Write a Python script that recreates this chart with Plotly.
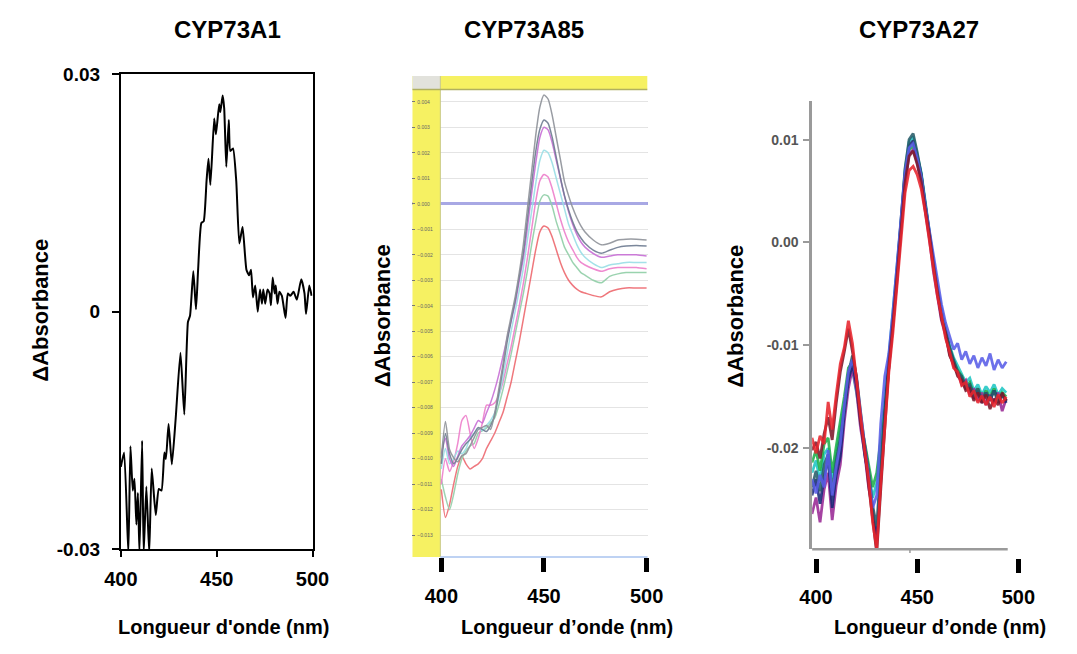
import plotly.graph_objects as go

# ---------------- data ----------------
# Panel 1 : CYP73A1
A1_WL = [400.0, 401.7, 403.9, 405.0, 406.2, 407.1, 408.1, 408.9, 409.7, 411.1,
         411.9, 413.3, 414.8, 416.1, 418.2, 419.8, 421.2, 422.7, 423.5, 424.9,
         426.6, 428.6, 431.1, 433.1, 435.0, 436.1, 437.8, 439.2, 440.3, 442.0,
         443.2, 444.7, 445.7, 446.7, 448.7, 449.6, 451.3, 451.9, 453.1, 453.9,
         455.0, 456.3, 457.1, 458.5, 460.2, 461.8, 463.5, 465.5, 466.9, 467.9,
         468.9, 470.1, 471.4, 472.6, 473.6, 474.3, 475.3, 476.5, 477.6, 478.3,
         479.2, 480.2, 480.8, 481.7, 482.7, 484.0, 485.9, 487.1, 488.4, 490.1,
         491.8, 494.1, 495.8, 496.6, 498.3, 499.5]
A1_DA = [-0.0196, -0.0178, -0.0305, -0.0170, -0.0226, -0.0211, -0.0269, -0.0229, -0.0305, -0.0163,
         -0.0305, -0.0221, -0.0305, -0.0198, -0.0257, -0.0224, -0.0226, -0.0178, -0.0186, -0.0142,
         -0.0193, -0.0135, -0.0052, -0.0130, -0.0013, -0.0005, 0.0051, 0.0003, 0.0053, 0.0112,
         0.0114, 0.0165, 0.0193, 0.0160, 0.0244, 0.0224, 0.0262, 0.0252, 0.0273, 0.0257,
         0.0183, 0.0242, 0.0203, 0.0206, 0.0165, 0.0086, 0.0107, 0.0053, 0.0046, 0.0053,
         0.0018, 0.0033, 0.0000, 0.0028, 0.0010, 0.0028, 0.0010, 0.0028, 0.0023, 0.0008,
         0.0043, 0.0023, 0.0033, 0.0010, 0.0025, 0.0020, -0.0008, 0.0023, 0.0020, 0.0025,
         0.0015, 0.0041, 0.0023, -0.0003, 0.0033, 0.0020]
P1_XTICKS = [400, 450, 500]
P1_YTICKS = [-0.03, 0, 0.03]
P1_YTEXT = ["-0.03", "0", "0.03"]

# Panel 2 : CYP73A85 (instrument screen, several scans)
A85_WL = [400, 402, 404, 406, 408, 410, 412, 414, 416, 418, 420, 422, 424, 426, 428, 430,
          432, 434, 436, 438, 440, 442, 444, 446, 448, 450, 452, 454, 456, 458, 460, 462,
          464, 466, 468, 470, 474, 478, 482, 486, 490, 495, 500]
A85_GRAY = [-0.00996, -0.00854, -0.00964, -0.00996, -0.01012, -0.00988, -0.00980, -0.00949, -0.00917, -0.00885,
            -0.00877, -0.00870, -0.00885, -0.00822, -0.00727, -0.00632, -0.00522, -0.00443, -0.00364, -0.00269,
            -0.00158, -0.00016, 0.00126, 0.00269, 0.00379, 0.00427, 0.00411, 0.00348, 0.00261, 0.00174,
            0.00087, 0.00032, -0.00016, -0.00055, -0.00087, -0.00111, -0.00142, -0.00161, -0.00155, -0.00142,
            -0.00139, -0.00139, -0.00142]
A85_SLATE = [-0.01020, -0.00901, -0.00980, -0.01020, -0.00996, -0.00964, -0.00941, -0.00925, -0.00901, -0.00877,
             -0.00885, -0.00893, -0.00870, -0.00830, -0.00743, -0.00648, -0.00545, -0.00458, -0.00379, -0.00285,
             -0.00190, -0.00055, 0.00079, 0.00206, 0.00292, 0.00329, 0.00316, 0.00261, 0.00182, 0.00103,
             0.00032, -0.00024, -0.00071, -0.00108, -0.00134, -0.00155, -0.00182, -0.00194, -0.00182, -0.00171,
             -0.00166, -0.00164, -0.00166]
A85_MAGENTA = [-0.0098, -0.0092, -0.0100, -0.0103, -0.0099, -0.0095, -0.0093, -0.0091, -0.0088, -0.0085,
               -0.0086, -0.0082, -0.0078, -0.0073, -0.0067, -0.0060, -0.0053, -0.0046, -0.0039, -0.0030,
               -0.0021, -0.0009, 0.0004, 0.0016, 0.0026, 0.0030, 0.0029, 0.0024, 0.0017, 0.0010,
               0.0003, -0.0003, -0.0008, -0.0012, -0.0015, -0.0017, -0.00195, -0.0021, -0.00205, -0.0020,
               -0.0020, -0.0020, -0.00205]
A85_CYAN = [-0.0104, -0.0096, -0.0102, -0.0100, -0.0097, -0.0098, -0.0096, -0.0092, -0.0090, -0.0088,
            -0.0089, -0.0087, -0.0085, -0.0082, -0.0076, -0.0068, -0.0059, -0.0050, -0.0042, -0.0034,
            -0.0025, -0.0014, -0.0003, 0.0008, 0.0017, 0.0021, 0.0020, 0.0016, 0.0010, 0.0004,
            -0.0002, -0.0008, -0.0012, -0.0016, -0.0019, -0.0021, -0.00235, -0.0025, -0.0024, -0.00235,
            -0.0023, -0.0023, -0.0023]
A85_PINK = [-0.0110, -0.0100, -0.0105, -0.0101, -0.0094, -0.0085, -0.0083, -0.0090, -0.0096, -0.0092,
            -0.0086, -0.0079, -0.0079, -0.0078, -0.0075, -0.0070, -0.0063, -0.0056, -0.0048, -0.0040,
            -0.0031, -0.0021, -0.0010, 0.0001, 0.0009, 0.00115, 0.00105, 0.0006, 0.0000, -0.0006,
            -0.0011, -0.0015, -0.0018, -0.0021, -0.0023, -0.0024, -0.00255, -0.00265, -0.00255, -0.0025,
            -0.0025, -0.0025, -0.00255]
A85_GREEN = [-0.0108, -0.0115, -0.0120, -0.0114, -0.0106, -0.0100, -0.0097, -0.0095, -0.0094, -0.0090,
             -0.0089, -0.0088, -0.0086, -0.0084, -0.0079, -0.0073, -0.0066, -0.0059, -0.0051, -0.0043,
             -0.0035, -0.0026, -0.0016, -0.0007, 0.0001, 0.00035, 0.0003, -0.0001, -0.0007, -0.0012,
             -0.0017, -0.0020, -0.0023, -0.0025, -0.0027, -0.0028, -0.0030, -0.0031, -0.00285, -0.00275,
             -0.0027, -0.0027, -0.0027]
A85_RED = [-0.0112, -0.0123, -0.0118, -0.0110, -0.0103, -0.0099, -0.0102, -0.0104, -0.0103, -0.0102,
           -0.0100, -0.0096, -0.0093, -0.0090, -0.0086, -0.0082, -0.0076, -0.0070, -0.0062, -0.0054,
           -0.0045, -0.0036, -0.0027, -0.0018, -0.0011, -0.00087, -0.00095, -0.0013, -0.0018, -0.0023,
           -0.0027, -0.0030, -0.0032, -0.00335, -0.00345, -0.0035, -0.0036, -0.00365, -0.00345, -0.00335,
           -0.0033, -0.0033, -0.0033]
P2_XTICKS = [400, 450, 500]
P2_TOP_TICKS = [410, 420, 430, 440, 450, 460, 470, 480, 490]

# Panel 3 : CYP73A27 (overlaid scans)
A27_WL = [398, 400, 402, 404, 406, 408, 410, 412, 414, 416, 418, 420, 422, 424, 426, 428, 430,
          432, 434, 436, 438, 440, 442, 444, 446, 448, 450, 452, 454, 456, 458, 460, 462, 464,
          466, 468, 470, 472, 474, 476, 478, 480, 482, 484, 486, 488, 490, 492, 494]
A27_RED = [-0.0190, -0.0205, -0.0188, -0.0196, -0.0155, -0.0182, -0.0148, -0.0118, -0.0102, -0.0076,
           -0.0098, -0.0136, -0.0168, -0.0202, -0.0230, -0.0272, -0.0298, -0.0234, -0.0178, -0.0126,
           -0.0088, -0.0042, 0.0006, 0.0048, 0.0070, 0.0074, 0.0066, 0.0052, 0.0029, 0.0002,
           -0.0026, -0.0052, -0.0071, -0.0093, -0.0106, -0.0122, -0.0126, -0.0139, -0.0136, -0.0150,
           -0.0144, -0.0156, -0.0149, -0.0158, -0.0150, -0.0160, -0.0148, -0.0156, -0.0150]
A27_MAROON = [-0.0202, -0.0194, -0.0210, -0.0186, -0.0170, -0.0192, -0.0156, -0.0126, -0.0106, -0.0084,
              -0.0106, -0.0132, -0.0174, -0.0198, -0.0236, -0.0266, -0.0302, -0.0240, -0.0184, -0.0120,
              -0.0080, -0.0036, 0.0014, 0.0058, 0.0084, 0.0089, 0.0076, 0.0059, 0.0032, 0.0008,
              -0.0022, -0.0048, -0.0074, -0.0088, -0.0110, -0.0118, -0.0130, -0.0134, -0.0144, -0.0142,
              -0.0154, -0.0146, -0.0156, -0.0148, -0.0162, -0.0152, -0.0158, -0.0146, -0.0154]
A27_NAVY = [-0.0246, -0.0230, -0.0254, -0.0228, -0.0210, -0.0258, -0.0226, -0.0208, -0.0166, -0.0134,
            -0.0118, -0.0138, -0.0172, -0.0206, -0.0228, -0.0264, -0.0288, -0.0222, -0.0164, -0.0114,
            -0.0076, -0.0030, 0.0018, 0.0066, 0.0094, 0.0099, 0.0084, 0.0066, 0.0036, 0.0009,
            -0.0020, -0.0046, -0.0068, -0.0086, -0.0104, -0.0116, -0.0128, -0.0132, -0.0142, -0.0140,
            -0.0152, -0.0144, -0.0156, -0.0146, -0.0154, -0.0144, -0.0152, -0.0148, -0.0156]
A27_PURPLE = [-0.0264, -0.0248, -0.0272, -0.0240, -0.0224, -0.0270, -0.0236, -0.0216, -0.0174, -0.0142,
              -0.0122, -0.0144, -0.0180, -0.0204, -0.0238, -0.0260, -0.0290, -0.0230, -0.0170, -0.0122,
              -0.0082, -0.0038, 0.0012, 0.0056, 0.0086, 0.0090, 0.0078, 0.0058, 0.0030, 0.0004,
              -0.0028, -0.0050, -0.0076, -0.0090, -0.0108, -0.0120, -0.0126, -0.0138, -0.0134, -0.0148,
              -0.0142, -0.0154, -0.0146, -0.0158, -0.0148, -0.0156, -0.0146, -0.0164, -0.0152]
A27_VIOLET = [-0.0230, -0.0244, -0.0226, -0.0238, -0.0202, -0.0246, -0.0218, -0.0196, -0.0158, -0.0126,
              -0.0114, -0.0132, -0.0166, -0.0196, -0.0224, -0.0258, -0.0246, -0.0176, -0.0130, -0.0108,
              -0.0068, -0.0024, 0.0022, 0.0068, 0.0092, 0.0096, 0.0082, 0.0064, 0.0036, 0.0012,
              -0.0016, -0.0040, -0.0060, -0.0078, -0.0090, -0.0104, -0.0098, -0.0114, -0.0106, -0.0118,
              -0.0110, -0.0122, -0.0112, -0.0120, -0.0108, -0.0124, -0.0114, -0.0122, -0.0116]
A27_GREEN = [-0.0214, -0.0202, -0.0222, -0.0196, -0.0190, -0.0224, -0.0198, -0.0176, -0.0150, -0.0122,
             -0.0116, -0.0140, -0.0176, -0.0194, -0.0216, -0.0238, -0.0224, -0.0192, -0.0160, -0.0116,
             -0.0078, -0.0034, 0.0016, 0.0062, 0.0090, 0.0094, 0.0080, 0.0060, 0.0034, 0.0006,
             -0.0024, -0.0048, -0.0070, -0.0088, -0.0102, -0.0116, -0.0124, -0.0130, -0.0140, -0.0136,
             -0.0148, -0.0142, -0.0152, -0.0144, -0.0150, -0.0142, -0.0154, -0.0146, -0.0150]
A27_CYAN = [-0.0224, -0.0212, -0.0232, -0.0206, -0.0200, -0.0230, -0.0206, -0.0184, -0.0158, -0.0130,
            -0.0124, -0.0146, -0.0170, -0.0200, -0.0226, -0.0248, -0.0234, -0.0198, -0.0154, -0.0110,
            -0.0072, -0.0026, 0.0020, 0.0070, 0.0098, 0.0103, 0.0086, 0.0068, 0.0040, 0.0010,
            -0.0018, -0.0044, -0.0066, -0.0084, -0.0100, -0.0112, -0.0120, -0.0128, -0.0136, -0.0132,
            -0.0144, -0.0138, -0.0148, -0.0140, -0.0146, -0.0138, -0.0148, -0.0142, -0.0146]
A27_TEAL = [-0.0238, -0.0222, -0.0242, -0.0216, -0.0206, -0.0242, -0.0212, -0.0190, -0.0162, -0.0128,
            -0.0110, -0.0130, -0.0164, -0.0196, -0.0222, -0.0256, -0.0276, -0.0216, -0.0168, -0.0118,
            -0.0074, -0.0028, 0.0022, 0.0072, 0.0100, 0.0106, 0.0088, 0.0066, 0.0038, 0.0010,
            -0.0022, -0.0046, -0.0068, -0.0086, -0.0102, -0.0114, -0.0126, -0.0130, -0.0140, -0.0138,
            -0.0148, -0.0142, -0.0154, -0.0146, -0.0152, -0.0144, -0.0156, -0.0148, -0.0154]
P3_XTICKS = [400, 450, 500]
P3_YTICKS = [-0.02, -0.01, 0.0, 0.01]
P3_YTEXT = ["-0.02", "-0.01", "0.00", "0.01"]

TITLES = ["CYP73A1", "CYP73A85", "CYP73A27"]
XTITLES = ["Longueur d'onde (nm)", "Longueur d\u2019onde (nm)", "Longueur d\u2019onde (nm)"]
YTITLE = "\u0394Absorbance"

# ---------------- geometry helpers (window pixels -> paper) ----------------
# the page body keeps its default 8 px margin, so the figure is 8 px smaller
# and window pixel p maps to figure pixel p - 8
OFF = 8
W, H = 1077 - OFF, 654 - OFF
def px(p):
    return (p - OFF) / W
def py(p):
    return 1 - (p - OFF) / H

FONT = "Liberation Sans, Arial, Helvetica, sans-serif"

P2_X_RANGE = [385.85, 500.47]
P2_Y_RANGE = [-0.01385, 0.00501]
P2_BAND_EDGE = 399.53
P2_TOPBAND = 0.004478
P3_X_RANGE = [398.09, 502.87]
P3_Y_RANGE = [-0.02982, 0.013735]

fig = go.Figure()

# Panel 1
fig.add_trace(go.Scatter(x=A1_WL, y=A1_DA, mode="lines", xaxis="x", yaxis="y",
                         line=dict(color="black", width=2, shape="spline", smoothing=0.5),
                         hoverinfo="skip", showlegend=False))

# Panel 2
p2_series = [
    (A85_RED, "#ee6a72"), (A85_GREEN, "#93cfa9"), (A85_PINK, "#ee7fcb"),
    (A85_CYAN, "#9adfe6"), (A85_MAGENTA, "#c86fd6"), (A85_SLATE, "#6e7c92"),
    (A85_GRAY, "#8e9299"),
]
for vals, col in p2_series:
    fig.add_trace(go.Scatter(x=A85_WL, y=vals, mode="lines", xaxis="x2", yaxis="y2",
                             line=dict(color=col, width=1.5, shape="spline", smoothing=0.6),
                             opacity=0.9, hoverinfo="skip", showlegend=False))

# Panel 3
p3_series = [
    (A27_CYAN, "#22c6c4"), (A27_GREEN, "#23b04c"), (A27_PURPLE, "#9b2e96"),
    (A27_NAVY, "#1b2878"), (A27_TEAL, "#2a5d6a"), (A27_VIOLET, "#5b5ee8"),
    (A27_MAROON, "#7d1a2c"), (A27_RED, "#e8262e"),
]
for vals, col in p3_series:
    fig.add_trace(go.Scatter(x=A27_WL, y=vals, mode="lines", xaxis="x4", yaxis="y3",
                             line=dict(color=col, width=2.8),
                             opacity=0.88, hoverinfo="skip", showlegend=False))

shapes = [
    # panel 2 screen decorations (drawn between grid and traces)
    dict(type="rect", xref="x2", yref="y2", x0=P2_X_RANGE[0], x1=P2_BAND_EDGE,
         y0=P2_Y_RANGE[0], y1=P2_Y_RANGE[1], fillcolor="#f6f162", line=dict(width=0), layer="between"),
    dict(type="rect", xref="x2", yref="y2", x0=P2_BAND_EDGE, x1=P2_X_RANGE[1],
         y0=P2_TOPBAND, y1=P2_Y_RANGE[1], fillcolor="#f6f162", line=dict(width=0), layer="between"),
    dict(type="rect", xref="x2", yref="y2", x0=P2_X_RANGE[0], x1=P2_BAND_EDGE,
         y0=P2_TOPBAND, y1=P2_Y_RANGE[1], fillcolor="#e2e2dc", line=dict(width=0), layer="between"),
    dict(type="line", xref="x2", yref="y2", x0=P2_BAND_EDGE, x1=P2_BAND_EDGE,
         y0=P2_Y_RANGE[0], y1=P2_Y_RANGE[1], line=dict(color="#c9c98a", width=1), layer="between"),
    dict(type="line", xref="x2", yref="y2", x0=P2_X_RANGE[0], x1=P2_X_RANGE[1],
         y0=P2_TOPBAND, y1=P2_TOPBAND, line=dict(color="#b0b060", width=1.5), layer="between"),
    # panel 2 bottom blue baseline
    dict(type="line", xref="paper", yref="paper", x0=px(437), x1=px(651), y0=py(565), y1=py(565),
         line=dict(color="#a9c3ef", width=1.5), layer="above"),
    # panel 3 inner grey x axis
    dict(type="line", xref="paper", yref="paper", x0=px(821), x1=px(1023), y0=py(557), y1=py(557),
         line=dict(color="#9a9a9a", width=2.5), layer="above"),
    dict(type="line", xref="paper", yref="paper", x0=px(922), x1=px(922), y0=py(557), y1=py(561),
         line=dict(color="#9a9a9a", width=1.5), layer="above"),
]

annotations = []
for txt, xc in zip(TITLES, [217, 523, 931]):
    annotations.append(dict(text=txt, x=px(xc), y=py(20), xref="paper", yref="paper",
                            showarrow=False, xanchor="center", yanchor="middle",
                            font=dict(family=FONT, size=24, color="black", weight="bold")))
for txt, xc in zip(XTITLES, [213, 568, 953]):
    annotations.append(dict(text=txt, x=px(xc), y=py(637), xref="paper", yref="paper",
                            showarrow=False, xanchor="center", yanchor="middle",
                            font=dict(family=FONT, size=20, color="black", weight="bold")))
for xc, yc in [(24, 310), (378, 316), (742, 316)]:
    annotations.append(dict(text=YTITLE, x=px(xc), y=py(yc), xref="paper", yref="paper",
                            showarrow=False, xanchor="center", yanchor="middle", textangle=-90,
                            font=dict(family=FONT, size=22, color="black", weight="bold")))

bold20 = dict(family=FONT, size=20, color="black", weight="bold")

fig.update_layout(
    width=W, height=H, margin=dict(l=0, r=0, t=0, b=0),
    paper_bgcolor="white", plot_bgcolor="white", showlegend=False,
    font=dict(family=FONT, color="black"),
    # panel 1
    xaxis=dict(domain=[px(107), px(305)], range=[400, 500], anchor="y",
               tickvals=P1_XTICKS, ticks="outside", ticklen=6, tickwidth=1.5, tickcolor="black",
               showline=True, linecolor="black", linewidth=2, mirror=True,
               showgrid=False, zeroline=False, tickfont=bold20, ticklabelstandoff=5),
    yaxis=dict(domain=[py(557), py(66)], range=[-0.03, 0.03], anchor="x",
               tickvals=P1_YTICKS, ticktext=P1_YTEXT, ticks="outside", ticklen=7, tickwidth=1.5,
               tickcolor="black", showline=True, linecolor="black", linewidth=2, mirror=True,
               showgrid=False, zeroline=False,
               tickfont=dict(family=FONT, size=19, color="black", weight="bold"), ticklabelstandoff=8),
    # panel 2
    xaxis2=dict(domain=[px(408), px(651)], range=P2_X_RANGE, anchor="y2",
                tickvals=P2_XTICKS, ticks="outside", ticklen=14, tickwidth=5, tickcolor="black",
                showline=False, showgrid=False, zeroline=False, tickfont=bold20, ticklabelstandoff=7),
    xaxis3=dict(overlaying="x2", side="top", anchor="y2", range=P2_X_RANGE,
                tickvals=P2_TOP_TICKS, ticklabelposition="inside", ticks="",
                tickfont=dict(family=FONT, size=5, color="#7a7a60"),
                showgrid=True, gridcolor="#e2e2e2", gridwidth=1, showline=False, zeroline=False),
    yaxis2=dict(domain=[py(565), py(68)], range=P2_Y_RANGE, anchor="x2",
                tick0=0, dtick=0.001, tickformat=".3f", ticklabelposition="inside",
                ticks="inside", ticklen=3, tickcolor="#777",
                tickfont=dict(family=FONT, size=5, color="#666"),
                showgrid=True, gridcolor="#e4e4e4", gridwidth=1,
                zeroline=True, zerolinecolor="#a8a8e4", zerolinewidth=2.5, showline=False),
    # panel 3
    xaxis4=dict(domain=[px(821), px(1040)], range=P3_X_RANGE, anchor="free", position=py(566),
                tickvals=P3_XTICKS, ticks="outside", ticklen=14, tickwidth=5, tickcolor="black",
                showline=False, showgrid=False, zeroline=False, tickfont=bold20, ticklabelstandoff=7),
    yaxis3=dict(domain=[py(557), py(94)], range=P3_Y_RANGE, anchor="x4",
                tickvals=P3_YTICKS, ticktext=P3_YTEXT, ticks="outside", ticklen=6, tickwidth=1.5,
                tickcolor="#9a9a9a", showline=True, linecolor="#9a9a9a", linewidth=2.5,
                showgrid=False, zeroline=False,
                tickfont=dict(family=FONT, size=14, color="#555", weight="bold"), ticklabelstandoff=2),
    shapes=shapes,
    annotations=annotations,
)

fig.write_html("out.html")
